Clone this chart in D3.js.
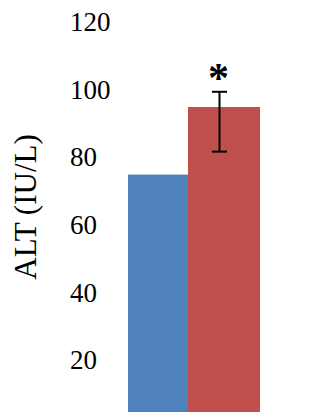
<!DOCTYPE html>
<html>
<head>
<meta charset="utf-8">
<script src="https://cdn.jsdelivr.net/npm/d3@7"></script>
</head>
<body style="margin:0">
<svg id="chart" width="334" height="412"></svg>
<script>
// ALT levels for the two groups
const groups = ["Control", "Treated"];
const altMeans = [75, 95];
const altErrLow = [null, 81.8];
const altErrHigh = [null, 99.5];
const significance = ["", "*"];
const yTicks = [20, 40, 60, 80, 100, 120];
const colors = ["#4F81BD", "#C0504D"];

const SERIF = '"Times New Roman", "Liberation Serif", Tinos, serif';

const rows = groups.map((g, i) => ({
  group: g, i, mean: altMeans[i], lo: altErrLow[i], hi: altErrHigh[i], sig: significance[i]
}));

const svg = d3.select("#chart");

// value axis: 0 sits just below the visible area
const y = d3.scaleLinear().domain([0, 120]).range([428.1, 22.5]);
// bar edges along x (group boundaries)
const x = d3.scaleLinear().domain([0, 1, 2]).range([128, 188, 260]);

// bars
svg.append("g").selectAll("rect")
  .data(rows)
  .join("rect")
  .attr("x", d => x(d.i))
  .attr("width", d => x(d.i + 1) - x(d.i))
  .attr("y", d => y(d.mean))
  .attr("height", d => y(0) - y(d.mean))
  .attr("fill", d => colors[d.i]);

// tick labels, left-aligned, no axis line or tick marks
svg.append("g").selectAll("text")
  .data(yTicks)
  .join("text")
  .attr("x", 70)
  .attr("y", d => y(d))
  .attr("dy", "0.32em")
  .style("font-family", SERIF)
  .style("font-size", "27px")
  .text(d => d3.format("d")(d));

// error bars, centred on the nominal bar width
const nominalW = x(1) - x(0);
const errX = d => x(d.i) + nominalW / 2 + 1.5;
const capHalf = 7.5;
const withErr = rows.filter(d => d.lo != null);
const eg = svg.append("g").attr("stroke", "#000").attr("stroke-width", 2);
eg.selectAll("line.stem").data(withErr).join("line").attr("class", "stem")
  .attr("x1", errX).attr("x2", errX)
  .attr("y1", d => y(d.hi)).attr("y2", d => y(d.lo));
eg.selectAll("line.capHi").data(withErr).join("line").attr("class", "capHi")
  .attr("x1", d => errX(d) - capHalf).attr("x2", d => errX(d) + capHalf)
  .attr("y1", d => y(d.hi)).attr("y2", d => y(d.hi));
eg.selectAll("line.capLo").data(withErr).join("line").attr("class", "capLo")
  .attr("x1", d => errX(d) - capHalf).attr("x2", d => errX(d) + capHalf)
  .attr("y1", d => y(d.lo)).attr("y2", d => y(d.lo));

// significance marker above the error bar
svg.append("g").selectAll("text")
  .data(rows.filter(d => d.sig !== ""))
  .join("text")
  .attr("x", d => errX(d) - 1)
  .attr("y", d => y(d.hi) + 0.5)
  .attr("text-anchor", "middle")
  .style("font-family", SERIF)
  .style("font-weight", "bold")
  .style("font-size", "42px")
  .text(d => d.sig);

// y-axis title
svg.append("text")
  .attr("transform", "translate(25,207) rotate(-90)")
  .attr("text-anchor", "middle")
  .attr("dy", "0.35em")
  .style("font-family", SERIF)
  .style("font-size", "31px")
  .text("ALT (IU/L)");
</script>
</body>
</html>
